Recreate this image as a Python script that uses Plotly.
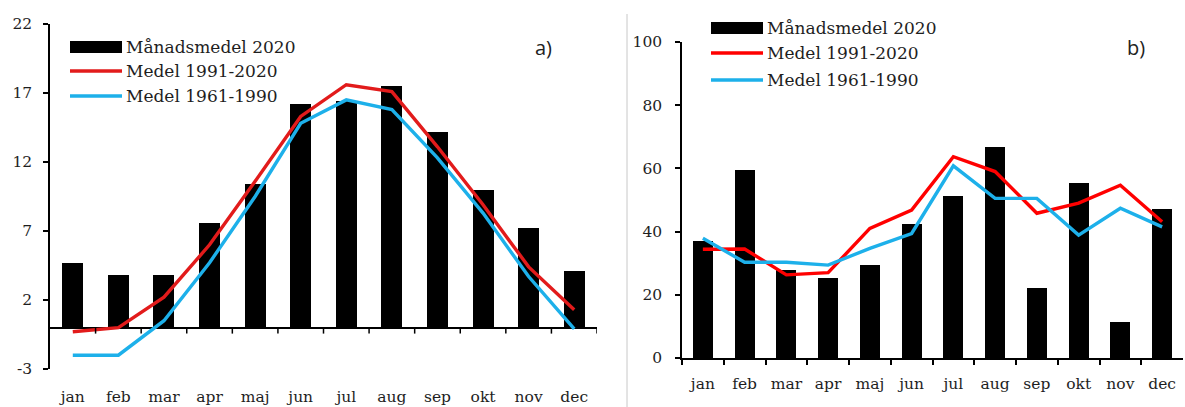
import plotly.graph_objects as go

months = ["jan", "feb", "mar", "apr", "maj", "jun", "jul", "aug", "sep", "okt", "nov", "dec"]

# a) temperature (°C)
temp_2020 = [4.7, 3.8, 3.8, 7.6, 10.4, 16.2, 16.4, 17.5, 14.2, 10.0, 7.2, 4.1]
temp_1991_2020 = [-0.3, 0.0, 2.2, 6.0, 10.6, 15.3, 17.6, 17.1, 13.1, 8.9, 4.4, 1.3]
temp_1961_1990 = [-2.0, -2.0, 0.5, 4.7, 9.5, 14.8, 16.5, 15.8, 12.3, 8.3, 3.7, -0.1]

# b) precipitation (mm)
prec_2020 = [37, 59.5, 28, 25.4, 29.4, 42.3, 51.3, 66.9, 22, 55.5, 11.5, 47.2]
prec_1991_2020 = [34.4, 34.5, 26.3, 27, 41, 46.8, 63.7, 59, 45.8, 49, 54.7, 43.1]
prec_1961_1990 = [37.9, 30.3, 30.3, 29.4, 34.7, 39.4, 60.8, 50.5, 50.5, 38.9, 47.4, 41.5]

legend_names = ["Månadsmedel 2020", "Medel 1991-2020", "Medel 1961-1990"]
panel_labels = ["a)", "b)"]
temp_ticks = [-3, 2, 7, 12, 17, 22]
temp_ticktext = ["-3", "2", "7", "12", "17", "22"]
prec_ticks = [0, 20, 40, 60, 80, 100]

W, H = 1185, 407
SERIF = "DejaVu Serif"
TXT = "#1e1e1e"
BLUE = "#1DB0EA"
LW = 3.4

fig = go.Figure()

# panel a
fig.add_trace(go.Bar(x=months, y=temp_2020, marker=dict(color="black", line=dict(width=0)),
                     width=0.46, xaxis="x", yaxis="y", showlegend=False))
fig.add_trace(go.Scatter(x=months, y=temp_1991_2020, mode="lines",
                         line=dict(color="#E21B1B", width=LW), xaxis="x", yaxis="y", showlegend=False))
fig.add_trace(go.Scatter(x=months, y=temp_1961_1990, mode="lines",
                         line=dict(color=BLUE, width=LW), xaxis="x", yaxis="y", showlegend=False))

# panel b
fig.add_trace(go.Bar(x=months, y=prec_2020, marker=dict(color="black", line=dict(width=0)),
                     width=0.48, xaxis="x2", yaxis="y2", showlegend=False))
fig.add_trace(go.Scatter(x=months, y=prec_1991_2020, mode="lines",
                         line=dict(color="#FF0000", width=LW), xaxis="x2", yaxis="y2", showlegend=False))
fig.add_trace(go.Scatter(x=months, y=prec_1961_1990, mode="lines",
                         line=dict(color=BLUE, width=LW), xaxis="x2", yaxis="y2", showlegend=False))

tickfont = dict(family=SERIF, size=15.5, color=TXT)

fig.update_layout(
    width=W, height=H,
    margin=dict(l=0, r=0, t=0, b=0, autoexpand=False),
    paper_bgcolor="white", plot_bgcolor="white",
    bargap=0,
    xaxis=dict(domain=[50 / W, 597 / W], anchor="y", type="category", range=[-0.5, 11.5],
               showline=False, showgrid=False, zeroline=False, ticks="", tickfont=tickfont,
               ticklabelstandoff=16, fixedrange=True, automargin=False),
    yaxis=dict(domain=[38 / H, 383 / H], anchor="x", range=[-3, 22], tickvals=temp_ticks,
               ticktext=temp_ticktext,
               showline=True, linecolor="black", linewidth=1.5, ticks="outside", ticklen=5,
               tickcolor="black", tickwidth=1.5, showgrid=False,
               zeroline=True, zerolinecolor="black", zerolinewidth=1.5,
               tickfont=tickfont, ticklabelstandoff=8, automargin=False),
    xaxis2=dict(domain=[682 / W, 1183 / W], anchor="y2", type="category", range=[-0.5, 11.5],
                showline=True, linecolor="black", linewidth=1.5, ticks="outside", tickson="boundaries",
                ticklen=5, tickcolor="black", tickwidth=1.5, showgrid=False, zeroline=False,
                tickfont=tickfont, ticklabelstandoff=11, automargin=False),
    yaxis2=dict(domain=[49 / H, 365 / H], anchor="x2", range=[0, 100], tickvals=prec_ticks,
                showline=True, linecolor="black", linewidth=1.5, ticks="outside", ticklen=5,
                tickcolor="black", tickwidth=1.5, showgrid=False, zeroline=False,
                tickfont=tickfont, ticklabelstandoff=10, automargin=False),
)

shapes = []
# category boundary ticks hanging from the zero line in panel a
for k in range(len(months)):
    shapes.append(dict(type="line", xref="x", yref="y", x0=k + 0.5, x1=k + 0.5,
                       ysizemode="pixel", yanchor=0, y0=0, y1=-6,
                       line=dict(color="black", width=1.5)))

# divider between the two panels
shapes.append(dict(type="line", xref="paper", yref="paper", x0=627 / W, x1=627 / W,
                   y0=0, y1=(H - 14) / H, line=dict(color="#c8c8c8", width=1)))

annotations = []


def add_legend(x0, ys, colors_kinds):
    for (y, (kind, color), name) in zip(ys, colors_kinds, legend_names):
        if kind == "bar":
            shapes.append(dict(type="rect", xref="paper", yref="paper",
                               x0=x0 / W, x1=(x0 + 52) / W,
                               y0=(H - y - 6) / H, y1=(H - y + 6) / H,
                               fillcolor="black", line=dict(width=0)))
        else:
            shapes.append(dict(type="line", xref="paper", yref="paper",
                               x0=x0 / W, x1=(x0 + 52) / W,
                               y0=(H - y) / H, y1=(H - y) / H,
                               line=dict(color=color, width=LW)))
        annotations.append(dict(xref="paper", yref="paper", x=(x0 + 54) / W, y=(H - y) / H,
                                xanchor="left", yanchor="middle", showarrow=False, text=name,
                                font=dict(family=SERIF, size=17, color=TXT)))


add_legend(70, [47, 71, 96], [("bar", "black"), ("line", "#E21B1B"), ("line", BLUE)])
add_legend(711, [28, 53, 80], [("bar", "black"), ("line", "#FF0000"), ("line", BLUE)])

for txt, x in zip(panel_labels, [543, 1136]):
    annotations.append(dict(xref="paper", yref="paper", x=x / W, y=(H - 48) / H,
                            xanchor="center", yanchor="middle", showarrow=False, text=txt,
                            font=dict(family="Open Sans", size=20, color="#222")))

fig.update_layout(shapes=shapes, annotations=annotations)

fig.write_html("out.html")
